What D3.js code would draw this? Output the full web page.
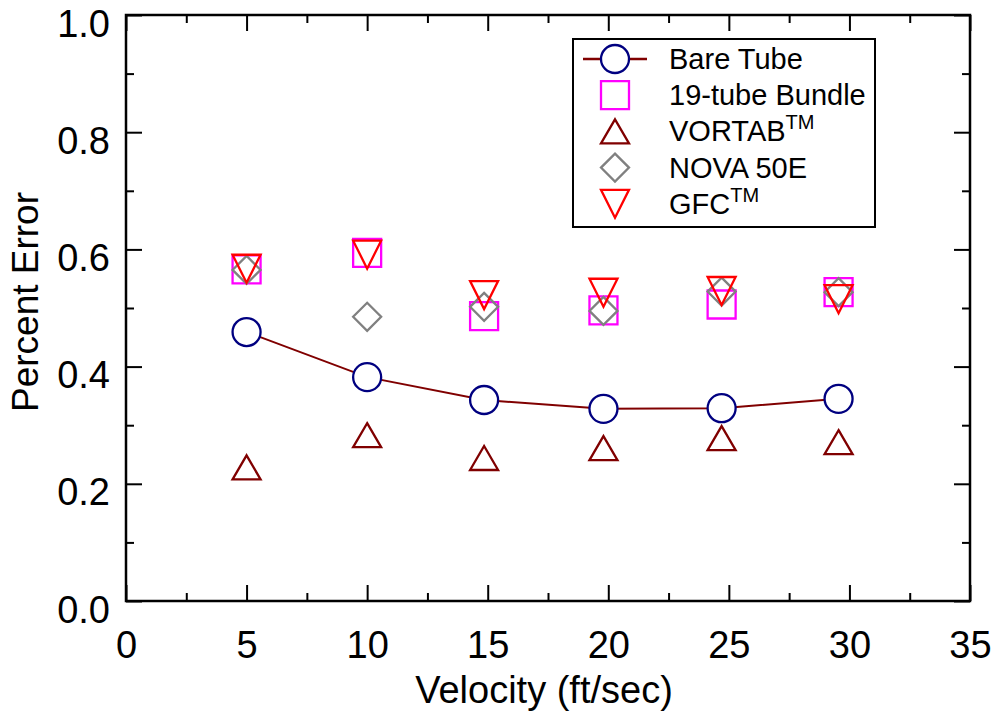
<!DOCTYPE html>
<html>
<head>
<meta charset="utf-8">
<script src="https://cdn.jsdelivr.net/npm/d3@7"></script>
<style>
  body { margin: 0; background: #fff; }
  text { font-family: "Liberation Sans", Arial, sans-serif; }
</style>
</head>
<body>
<script>
// values
const velocity = [5, 10, 14.85, 19.8, 24.7, 29.55];
const bareTube = [0.459, 0.382, 0.343, 0.328, 0.329, 0.345];
const bundle19 = [0.566, 0.594, 0.486, 0.496, 0.506, 0.527];
const vortab   = [0.228, 0.283, 0.244, 0.261, 0.278, 0.271];
const nova50e  = [0.565, 0.485, 0.502, 0.495, 0.528, 0.527];
const gfc      = [0.567, 0.591, 0.522, 0.526, 0.529, 0.515];

const xTicks = [0, 5, 10, 15, 20, 25, 30, 35];
const xMinor = [2.5, 7.5, 12.5, 17.5, 22.5, 27.5, 32.5];
const yTicks = [0, 0.2, 0.4, 0.6, 0.8, 1.0];
const yMinor = [0.1, 0.3, 0.5, 0.7, 0.9];

const W = 999, H = 714;
const plot = { left: 126, right: 970, top: 15, bottom: 601 };

const svg = d3.select('body').append('svg')
    .attr('width', W)
    .attr('height', H);

const x = d3.scaleLinear().domain([0, 35]).range([plot.left, plot.right]);
const y = d3.scaleLinear().domain([0, 1]).range([plot.bottom, plot.top]);

const major = 16, minor = 8;

// ticks on all four sides, pointing inward
function tickAxis(axisFn, scale, ticks, size, translate, fmt) {
    const g = svg.append('g')
        .attr('transform', translate)
        .call(axisFn(scale).tickValues(ticks).tickSize(-size)
            .tickFormat(fmt || ''));
    g.select('.domain').remove();
    g.selectAll('.tick line').attr('stroke', '#000').attr('stroke-width', 2);
    g.selectAll('.tick text').style('font-size', '38px').attr('fill', '#000');
    return g;
}

const xb = tickAxis(d3.axisBottom, x, xTicks, major, `translate(0,${plot.bottom})`, d3.format('d'));
xb.selectAll('.tick text').attr('y', 57).attr('dy', null);
tickAxis(d3.axisBottom, x, xMinor, minor, `translate(0,${plot.bottom})`);
tickAxis(d3.axisTop, x, xTicks, major, `translate(0,${plot.top})`);
tickAxis(d3.axisTop, x, xMinor, minor, `translate(0,${plot.top})`);
const yl = tickAxis(d3.axisLeft, y, yTicks, major, `translate(${plot.left},0)`, d3.format('.1f'));
yl.selectAll('.tick text').attr('x', -16).attr('y', 21).attr('dy', null);
tickAxis(d3.axisLeft, y, yMinor, minor, `translate(${plot.left},0)`);
tickAxis(d3.axisRight, y, yTicks, major, `translate(${plot.right},0)`);
tickAxis(d3.axisRight, y, yMinor, minor, `translate(${plot.right},0)`);

// frame
svg.append('rect')
    .attr('x', plot.left).attr('y', plot.top)
    .attr('width', plot.right - plot.left)
    .attr('height', plot.bottom - plot.top)
    .attr('fill', 'none')
    .attr('stroke', '#000')
    .attr('stroke-width', 2.5);

// axis titles
svg.append('text')
    .attr('x', 544)
    .attr('y', 703)
    .attr('text-anchor', 'middle')
    .style('font-size', '38px')
    .text('Velocity (ft/sec)');

svg.append('text')
    .attr('transform', 'translate(38,302) rotate(-90)')
    .attr('text-anchor', 'middle')
    .style('font-size', '37px')
    .text('Percent Error');

// marker shapes, centred on 0,0
const shapes = {
    circle: 'M14,0A14,14 0 1,1 -14,0A14,14 0 1,1 14,0Z',
    square: 'M-14,-14H14V14H-14Z',
    up: 'M0,-12L14,12H-14Z',
    diamond: 'M0,-14L14,0L0,14L-14,0Z',
    down: 'M-14,-14H14L0,14Z'
};

const series = [
    { name: 'Bare Tube', values: bareTube, shape: 'circle', color: '#000080', fill: '#fff', line: true },
    { name: '19-tube Bundle', values: bundle19, shape: 'square', color: '#ff00ff', fill: 'none' },
    { name: 'VORTAB', tm: true, values: vortab, shape: 'up', color: '#800000', fill: 'none' },
    { name: 'NOVA 50E', values: nova50e, shape: 'diamond', color: '#808080', fill: 'none' },
    { name: 'GFC', tm: true, values: gfc, shape: 'down', color: '#ff0000', fill: 'none' }
];

// bare tube line
svg.append('path')
    .datum(velocity.map((v, i) => [v, bareTube[i]]))
    .attr('d', d3.line().x(d => x(d[0])).y(d => y(d[1])))
    .attr('fill', 'none')
    .attr('stroke', '#800000')
    .attr('stroke-width', 2);

series.forEach(s => {
    svg.append('g').selectAll('path')
        .data(velocity.map((v, i) => [v, s.values[i]]))
        .enter()
        .append('path')
        .attr('transform', d => `translate(${x(d[0])},${y(d[1])})`)
        .attr('d', shapes[s.shape])
        .attr('fill', s.fill)
        .attr('stroke', s.color)
        .attr('stroke-width', 2.3);
});

// legend
const legend = svg.append('g');
legend.append('rect')
    .attr('x', 573).attr('y', 39)
    .attr('width', 302).attr('height', 188)
    .attr('fill', '#fff')
    .attr('stroke', '#000')
    .attr('stroke-width', 2);

series.forEach((s, i) => {
    const cy = 59 + i * 36.2;
    if (s.line) {
        legend.append('line')
            .attr('x1', 583).attr('x2', 647)
            .attr('y1', cy).attr('y2', cy)
            .attr('stroke', '#800000')
            .attr('stroke-width', 2.5);
    }
    legend.append('path')
        .attr('transform', `translate(615,${cy})`)
        .attr('d', shapes[s.shape])
        .attr('fill', s.fill)
        .attr('stroke', s.color)
        .attr('stroke-width', 2.3);
    const t = legend.append('text')
        .attr('x', 669)
        .attr('y', cy + 10)
        .style('font-size', '29px')
        .text(s.name);
    if (s.tm) {
        t.append('tspan')
            .attr('dy', -12)
            .style('font-size', '20px')
            .text('TM');
    }
});
</script>
</body>
</html>
